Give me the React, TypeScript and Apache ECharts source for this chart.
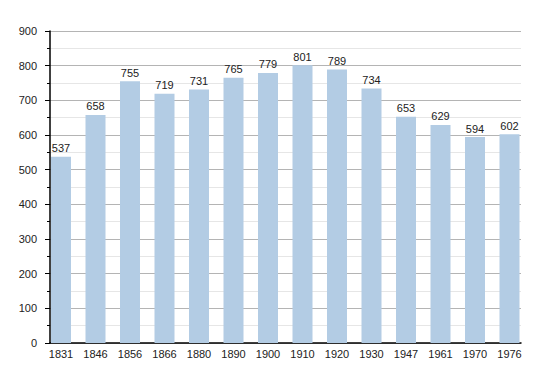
import React, { useEffect, useRef } from "react";
import * as echarts from "echarts";

const years = ["1831", "1846", "1856", "1866", "1880", "1890", "1900", "1910", "1920", "1930", "1947", "1961", "1970", "1976"];
const population = [537, 658, 755, 719, 731, 765, 779, 801, 789, 734, 653, 629, 594, 602];
const yTicks = [0, 100, 200, 300, 400, 500, 600, 700, 800, 900];

export default function App() {
  const ref = useRef<HTMLDivElement>(null);
  useEffect(() => {
    if (!ref.current) return;
    const chart = echarts.init(ref.current, null, { renderer: "svg" });
    const font = "'Liberation Sans', Arial, sans-serif";
    chart.setOption({
      animation: false,
      backgroundColor: "#ffffff",
      textStyle: { fontFamily: font },
      grid: [
        { left: 50, right: 29, top: 31, bottom: 30 },
        { left: 43.75, right: 23.25, top: 31, bottom: 30 },
      ],
      xAxis: [
        {
          type: "category",
          gridIndex: 0,
          data: years,
          axisLine: { show: true, lineStyle: { color: "#000", width: 1.5 } },
          axisTick: { show: false },
          axisLabel: { show: false },
          splitLine: { show: false },
        },
        {
          type: "category",
          gridIndex: 1,
          data: years,
          axisLine: { show: false },
          axisTick: { show: false },
          axisLabel: { color: "#222", fontSize: 11, margin: 5, fontFamily: font },
        },
      ],
      yAxis: [
        {
          type: "value",
          gridIndex: 0,
          min: yTicks[0],
          max: yTicks[yTicks.length - 1],
          interval: 100,
          axisLine: { show: true, lineStyle: { color: "#000", width: 1.5 } },
          axisTick: { show: true, length: 5, lineStyle: { color: "#000" } },
          minorTick: { show: true, splitNumber: 2, length: 3, lineStyle: { color: "#000" } },
          axisLabel: { color: "#222", fontSize: 11, margin: 13, fontFamily: font },
          splitLine: { show: true, lineStyle: { color: "#b4b4b4", width: 1 } },
          minorSplitLine: { show: true, lineStyle: { color: "#e6e6e6", width: 1 } },
        },
        {
          type: "value",
          gridIndex: 1,
          min: yTicks[0],
          max: yTicks[yTicks.length - 1],
          interval: 100,
          show: false,
          splitLine: { show: false },
        },
      ],
      series: [
        {
          type: "bar",
          xAxisIndex: 1,
          yAxisIndex: 1,
          data: population,
          barWidth: 20,
          itemStyle: { color: "#b3cce4" },
          label: {
            show: true,
            position: "top",
            distance: 3,
            color: "#222",
            fontSize: 11,
            fontFamily: font,
          },
        },
      ],
    });
    return () => chart.dispose();
  }, []);
  return <div ref={ref} style={{ width: 550, height: 373, position: "absolute", left: 0, top: 0 }} />;
}
